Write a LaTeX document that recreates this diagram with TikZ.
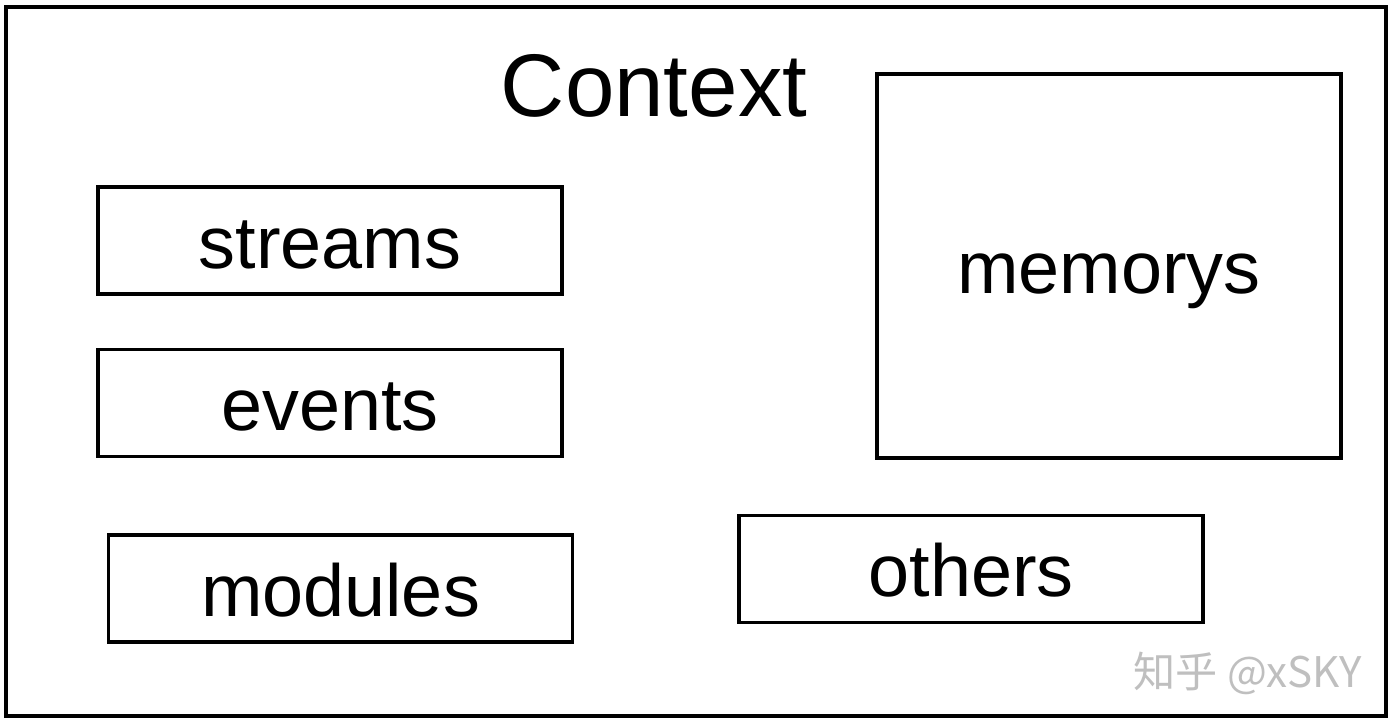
\documentclass[tikz,border=0pt]{standalone}
\usepackage{fontspec}
\setmainfont{Liberation Sans}
\newfontfamily\cjkfont{Noto Sans CJK SC}
\tikzset{
  partbox/.style={draw=black, line width=2pt, fill=white, minimum width=9.28cm, minimum height=2.14cm, inner sep=0pt,
    text height=1.12cm, text depth=0pt, font=\fontsize{42}{50}\selectfont},
  framebox/.style={draw=black, line width=2pt, inner sep=0pt},
}
\begin{document}
\begin{tikzpicture}[x=0.02cm, y=-0.02cm]
				\useasboundingbox (0, 0) rectangle (1393, 722);
				
				% outer frame and title
				\node[framebox, minimum width=27.6cm, minimum height=14.18cm] (frame) at (696, 361.5) {};
				\node[font=\fontsize{50.6}{60}\selectfont] (title) at (654, 86) {Context};
				
				% left column
				\node[partbox] (streams) at (330, 240.5) {streams};
				\node[partbox] (events) at (330, 403) {events};
				\node[partbox] (modules) at (340.5, 588.5) {modules};
				
				% right side
				\node[partbox, minimum height=7.68cm] (memorys) at (1109, 266) {memorys};
				\node[partbox] (others) at (971, 569) {others};
				
				% watermark
				\node[font=\cjkfont\fontsize{24}{28}\selectfont, text=black!25, anchor=east] (mark) at (1368, 673) {知乎 @xSKY};
			\end{tikzpicture}
\end{document}
